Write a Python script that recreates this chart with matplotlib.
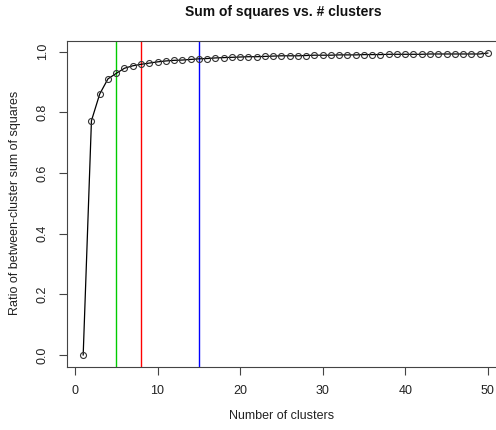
import matplotlib
matplotlib.use("Agg")
import matplotlib.pyplot as plt

clusters = list(range(1, 51))
ratio = [0.000, 0.772, 0.860, 0.910, 0.928, 0.945, 0.953, 0.958, 0.962, 0.966,
         0.969, 0.971, 0.972, 0.974, 0.976, 0.977, 0.979, 0.980, 0.981, 0.982,
         0.983, 0.983, 0.984, 0.985, 0.986, 0.986, 0.986, 0.987, 0.988, 0.988,
         0.988, 0.989, 0.989, 0.989, 0.990, 0.990, 0.990, 0.991, 0.991, 0.991,
         0.991, 0.991, 0.992, 0.992, 0.992, 0.992, 0.992, 0.992, 0.992, 0.995]
vlines = [5, 8, 15]
vline_colors = ["#00cc00", "#ff0000", "#0000ff"]
xticks = [0, 10, 20, 30, 40, 50]
yticks = [0.0, 0.2, 0.4, 0.6, 0.8, 1.0]

plt.rcParams['font.family'] = ['Liberation Sans', 'DejaVu Sans']
W, H = 496, 430
fig = plt.figure(figsize=(W / 100, H / 100), dpi=100)
ax = fig.add_axes([67 / W, 1 - 367 / H, 437 / W, 326 / H])

ax.plot(clusters, ratio, color="black", lw=0.9, marker="o", ms=4.3,
        mfc="none", mec="#333333", mew=0.8, zorder=3)
for v, c in zip(vlines, vline_colors):
    ax.axvline(v, color=c, lw=1.0, zorder=2)

ax.set_xlim(-0.96, 51.96)
ax.set_ylim(-0.0398, 1.0348)
ax.set_xticks(xticks)
ax.set_xticklabels([str(t) for t in xticks])
ax.set_yticks(yticks)
ax.set_yticklabels([f"{t:.1f}" for t in yticks], rotation=90, va="center")
ax.tick_params(direction="out", length=6, width=0.8, color="#444444",
               labelsize=9, pad=7, labelcolor="#222222")
for s in ax.spines.values():
    s.set_color("#444444")
    s.set_linewidth(0.8)

fig.text(67 / W + 437 / W * (25.5 + 0.96) / 52.92 - 0.005, 1 - 12 / H,
         "Sum of squares vs. # clusters", ha="center", va="center",
         fontsize=10, fontweight="bold", color="#111111")
fig.text(282 / W, 1 - 416 / H, "Number of clusters", ha="center", va="center",
         fontsize=9, color="#222222")
fig.text(15 / W, 1 - 203 / H, "Ratio of between-cluster sum of squares",
         ha="center", va="center", rotation=90, fontsize=9, color="#222222")

fig.savefig("out.png", dpi=100)
